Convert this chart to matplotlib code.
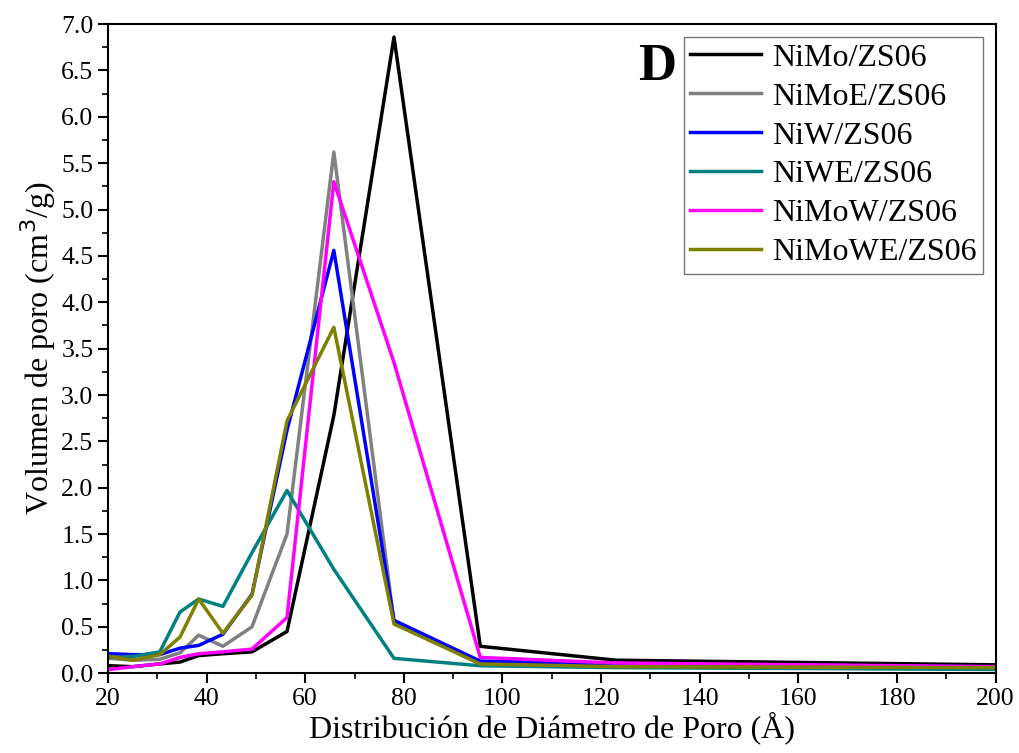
import matplotlib.pyplot as plt
from matplotlib.ticker import MultipleLocator

plt.rcParams['font.family'] = ['Liberation Serif', 'DejaVu Serif']

diam = [20.4, 25, 30.5, 34.6, 38.4, 43.3, 49.2, 56.3, 65.8, 78, 95.5, 123, 200]

nimo = [0.08, 0.07, 0.10, 0.12, 0.19, 0.21, 0.23, 0.45, 2.78, 6.86, 0.29, 0.14, 0.09]
nimoe = [0.16, 0.14, 0.15, 0.22, 0.41, 0.29, 0.50, 1.50, 5.62, 0.55, 0.10, 0.07, 0.05]
niw = [0.21, 0.20, 0.20, 0.27, 0.30, 0.42, 0.85, 2.62, 4.56, 0.57, 0.13, 0.10, 0.07]
niwe = [0.17, 0.18, 0.23, 0.66, 0.80, 0.72, 1.30, 1.97, 1.12, 0.16, 0.08, 0.06, 0.04]
nimow = [0.04, 0.07, 0.10, 0.17, 0.21, 0.23, 0.26, 0.60, 5.30, 3.35, 0.17, 0.11, 0.07]
nimowe = [0.18, 0.14, 0.20, 0.39, 0.80, 0.43, 0.84, 2.72, 3.73, 0.53, 0.10, 0.07, 0.06]

series = [
    ('NiMo/ZS06', nimo, 'black'),
    ('NiMoE/ZS06', nimoe, 'gray'),
    ('NiW/ZS06', niw, 'blue'),
    ('NiWE/ZS06', niwe, 'teal'),
    ('NiMoW/ZS06', nimow, 'magenta'),
    ('NiMoWE/ZS06', nimowe, 'olive'),
]

fig = plt.figure(figsize=(10.19, 7.53), dpi=100)
ax = fig.add_axes([0.106, 0.106, 0.871, 0.862])

for name, vals, col in series:
    ax.plot(diam, vals, color=col, lw=2.5, label=name)

ax.set_xlim(20, 200)
ax.set_ylim(0, 7.0)
ax.xaxis.set_major_locator(MultipleLocator(20))
ax.xaxis.set_minor_locator(MultipleLocator(10))
ax.yaxis.set_major_locator(MultipleLocator(0.5))
ax.yaxis.set_minor_locator(MultipleLocator(0.25))
ax.yaxis.set_major_formatter(plt.FormatStrFormatter('%.1f'))
ax.tick_params(which='major', direction='out', length=7, width=1.5, labelsize=18.5)
ax.tick_params(which='minor', direction='out', length=4, width=1.2)
for s in ax.spines.values():
    s.set_linewidth(1.5)

ax.set_xlabel('Distribución de Diámetro de Poro (Å)', fontsize=23, labelpad=1)
ax.set_ylabel('Volumen de poro (cm$^3$/g)', fontsize=23, labelpad=2)

leg = ax.legend(loc='upper right', fontsize=23, frameon=True, fancybox=False,
                handlelength=2.2, handletextpad=0.35, labelspacing=0.3,
                borderaxespad=0.4, borderpad=0.2)
leg.get_frame().set_edgecolor('#555555')
leg.get_frame().set_linewidth(1.0)

ax.text(0.619, 0.934, 'D', transform=ax.transAxes, fontsize=38,
        fontweight='bold', va='center', ha='center')

fig.savefig('out.png', dpi=100)
